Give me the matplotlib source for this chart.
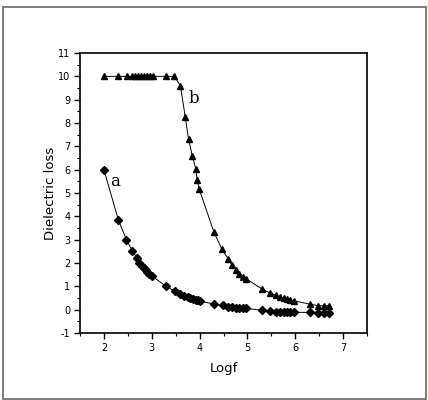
import matplotlib
matplotlib.use("Agg")
import matplotlib.pyplot as plt
from matplotlib.patches import Rectangle
from matplotlib.ticker import MultipleLocator

plt.rcParams["axes.unicode_minus"] = False

# Series a (diamonds)
a_x = [2.0, 2.30, 2.47, 2.59, 2.69, 2.74, 2.79, 2.83, 2.87, 2.91, 2.95, 3.0,
       3.3, 3.48, 3.6, 3.68, 3.75, 3.81, 3.87, 3.92, 3.96, 4.0,
       4.3, 4.48, 4.6, 4.68, 4.76, 4.83, 4.9, 4.97,
       5.3, 5.48, 5.6, 5.68, 5.76, 5.83, 5.9, 5.97,
       6.3, 6.48, 6.6, 6.7]
a_y = [6.0, 3.86, 3.0, 2.53, 2.22, 2.0, 1.88, 1.78, 1.68, 1.6, 1.52, 1.45,
       1.0, 0.79, 0.67, 0.6, 0.55, 0.5, 0.46, 0.42, 0.4, 0.37,
       0.24, 0.18, 0.13, 0.11, 0.09, 0.08, 0.07, 0.06,
       -0.03, -0.06, -0.08, -0.09, -0.1, -0.1, -0.11, -0.11,
       -0.12, -0.13, -0.13, -0.13]

# Series b (triangles)
b_x = [2.0, 2.30, 2.48, 2.58, 2.65, 2.72, 2.78, 2.84, 2.9, 2.96, 3.03, 3.3, 3.47,
       3.6, 3.7, 3.77, 3.85, 3.92, 3.95, 3.99,
       4.3, 4.47, 4.6, 4.68, 4.77, 4.83, 4.9, 4.97,
       5.3, 5.48, 5.6, 5.68, 5.76, 5.83, 5.9, 5.97,
       6.3, 6.48, 6.6, 6.7]
b_y = [10.0, 10.0, 10.0, 10.0, 10.0, 10.0, 10.0, 10.0, 10.0, 10.0, 10.0, 10.0, 10.0,
       9.6, 8.25, 7.3, 6.58, 6.04, 5.55, 5.18,
       3.32, 2.58, 2.17, 1.9, 1.72, 1.54, 1.42, 1.33,
       0.89, 0.71, 0.61, 0.54, 0.49, 0.45, 0.41, 0.38,
       0.24, 0.17, 0.17, 0.17]

fig = plt.figure(figsize=(4.28, 4.0), dpi=100)
fig.patches.append(Rectangle((3 / 428, 1 - 399 / 400), 423 / 428, 392 / 400,
                             transform=fig.transFigure, fill=False,
                             edgecolor="#666666", linewidth=1.2))
ax = fig.add_axes([80 / 428, 1 - 333 / 400, 287 / 428, 280 / 400])

ax.plot(a_x, a_y, color="black", lw=0.7, marker="D", ms=4.0, mfc="black", mec="black")
ax.plot(b_x, b_y, color="black", lw=0.7, marker="^", ms=4.8, mfc="black", mec="black")

ax.text(2.13, 5.3, "a", family="DejaVu Serif", fontsize=12)
ax.text(3.77, 8.85, "b", family="DejaVu Serif", fontsize=12)

ax.set_xlim(1.5, 7.5)
ax.set_ylim(-1, 11)
ax.xaxis.set_major_locator(MultipleLocator(1))
ax.xaxis.set_minor_locator(MultipleLocator(0.5))
ax.yaxis.set_major_locator(MultipleLocator(1))
ax.yaxis.set_minor_locator(MultipleLocator(0.5))
ax.set_xticks([2, 3, 4, 5, 6, 7])
ax.tick_params(which="both", direction="out", top=False, right=False, labelsize=7)
ax.tick_params(which="major", length=4, width=1, pad=3)
ax.tick_params(which="minor", length=2, width=0.8)
for s in ax.spines.values():
    s.set_linewidth(1.2)
ax.set_xlabel("Logf", fontsize=9.5, labelpad=7)
ax.set_ylabel("Dielectric loss", fontsize=9.5, labelpad=1)

fig.savefig("out.png", dpi=100)
